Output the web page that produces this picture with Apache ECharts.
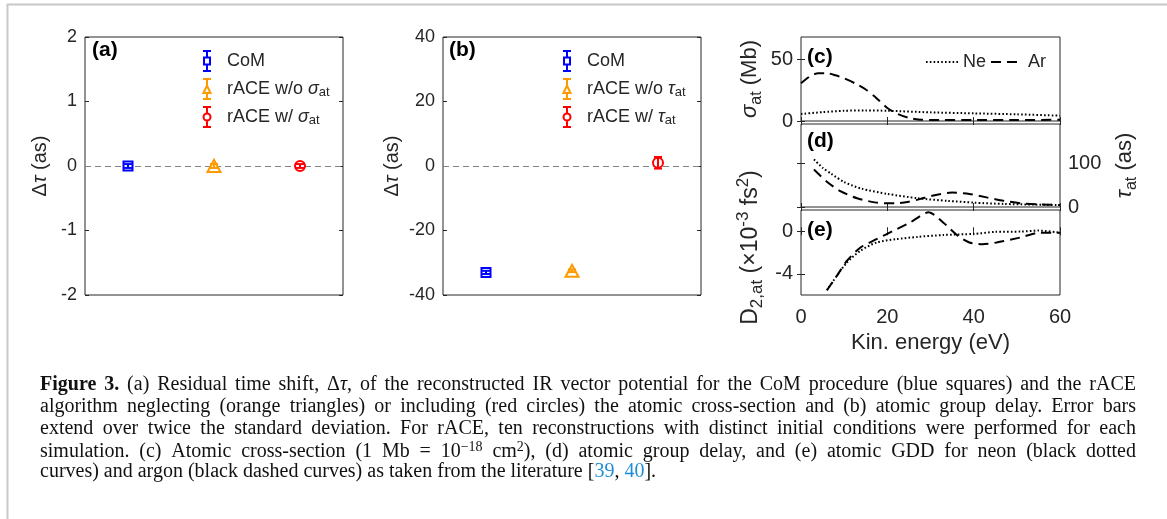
<!DOCTYPE html>
<html>
<head>
<meta charset="utf-8">
<title>Figure 3</title>
<script src="https://cdn.jsdelivr.net/npm/echarts@6/dist/echarts.min.js"></script>
<style>
html, body { margin: 0; padding: 0; background: #fff; }
#chart { width: 1167px; height: 519px; }
</style>
</head>
<body>
<div id="chart"></div>
<script>
// (a)(b) residual time shift per method
const methodX = [0.5, 1.5, 2.5];
const methodNames = ['CoM', 'rACE w/o', 'rACE w/'];
const shiftA = [0, 0, 0];
const errA = [0.03, 0.03, 0.03];
const shiftB = [-33, -32.5, 1];
const errB = [0.5, 0.4, 1.8];

// (c) cross-section (Mb)
const energyNeSigma = [0, 5, 10, 15, 20, 30, 40, 50, 60];
const sigmaNe = [5.7, 7.2, 8.3, 8.5, 8.3, 7.0, 6.2, 5.4, 4.3];
const energyArSigma = [0, 2, 4, 6, 8, 10, 12.5, 15, 17.5, 20, 22.5, 25, 28, 32, 40, 50, 60];
const sigmaAr = [30.5, 36, 38.7, 38.7, 37, 34.5, 30.5, 25.5, 18.5, 10.5, 5.5, 2.5, 1, 0.8, 0.8, 0.8, 1];

// (d) group delay (as)
const energyNeTau = [3, 5, 7, 10, 14, 20, 27, 34, 40, 47, 54, 60];
const tauNe = [109, 90, 76, 57, 42, 30, 20, 14, 10, 7, 5.5, 4.6];
const energyArTau = [3, 6, 9, 13, 17.5, 22, 25, 27.5, 31, 35, 39, 43, 47, 51, 55, 60];
const tauAr = [86, 58, 37, 20, 10, 8.5, 12, 18, 27, 33, 30, 22, 14, 8.5, 6, 4.6];

// (e) GDD (1e-3 fs^2)
const energyNeGdd = [6, 8.3, 10.6, 13.7, 17.5, 22, 27, 33, 40, 45, 51, 55, 60];
const gddNe = [-5.55, -4.2, -2.95, -1.85, -1.06, -0.75, -0.53, -0.35, -0.25, -0.06, -0.03, 0.06, -0.13];
const energyArGdd = [6, 8.3, 10.6, 13.7, 17.5, 21.3, 25.2, 29.6, 33, 36.4, 39, 42, 45.3, 50.7, 55.4, 60];
const gddAr = [-5.55, -4.2, -2.8, -1.55, -0.75, 0.03, 0.8, 1.8, 0.8, -0.45, -1.06, -1.22, -1.06, -0.6, -0.13, -0.13];

// tick labels
const ticksA = [-2, -1, 0, 1, 2];
const ticksB = [-40, -20, 0, 20, 40];
const ticksSigma = [0, 50];
const ticksTau = [0, 100];
const ticksGdd = [-4, 0];
const ticksEnergy = [0, 20, 40, 60];

const FONT = '"Liberation Sans", Arial, sans-serif';
const SERIF = '"Liberation Serif", "Times New Roman", serif';
const AX = '#262626';
const methodColors = ['#0000ff', '#ff9900', '#ff0000'];
const markerShapes = ['rect', 'triangle', 'circle'];
const markerSizes = [9, [13, 12], 10];

// rich styles for math-like labels
function mathRich(size, gap) {
  return {
    n: { fontSize: size, fontFamily: FONT, color: AX, lineHeight: size + 8 },
    i: { fontSize: size, fontFamily: FONT, color: AX, fontStyle: 'italic', lineHeight: size + 8 },
    s: { fontSize: Math.round(size * 0.72), fontFamily: FONT, color: AX, verticalAlign: 'bottom' },
    u: { fontSize: Math.round(size * 0.72), fontFamily: FONT, color: AX, verticalAlign: 'top' },
    g: { fontSize: size, width: gap || 11 }
  };
}

const tickStyle = { inside: true, length: 4, lineStyle: { color: AX, width: 1 } };
function labelStyle(size, margin) {
  return { fontSize: size, fontFamily: FONT, color: AX, margin: margin };
}

function xAx(grid, pos, min, max, opts) {
  return Object.assign({
    type: 'value', gridIndex: grid, position: pos, min: min, max: max,
    axisLine: { show: false }, splitLine: { show: false },
    axisTick: { show: false }, axisLabel: { show: false }
  }, opts || {});
}
function yAx(grid, pos, min, max, ticks, size, showLabels, opts) {
  return Object.assign({
    type: 'value', gridIndex: grid, position: pos, min: min, max: max,
    axisLine: { show: false }, splitLine: { show: false },
    axisTick: Object.assign({ customValues: ticks }, tickStyle),
    axisLabel: Object.assign({ show: showLabels, customValues: ticks }, labelStyle(size, 8)),
    nameLocation: 'middle', nameRotate: 90
  }, opts || {});
}
function energyAx(grid, pos, showLabels, opts) {
  return xAx(grid, pos, 0, 60, Object.assign({
    axisTick: Object.assign({ customValues: ticksEnergy }, tickStyle),
    axisLabel: Object.assign({ show: showLabels, customValues: ticksEnergy }, labelStyle(20, 12))
  }, opts || {}));
}

const gridBox = { show: true, borderColor: AX, borderWidth: 1, backgroundColor: 'transparent' };

// error bar drawing
function errorBar(params, api) {
  const lo = api.coord([api.value(0), api.value(2)]);
  const hi = api.coord([api.value(0), api.value(3)]);
  const cap = 4;
  const st = { stroke: methodColors[params.dataIndex], lineWidth: 2 };
  return {
    type: 'group',
    children: [
      { type: 'line', shape: { x1: lo[0], y1: lo[1], x2: hi[0], y2: hi[1] }, style: st },
      { type: 'line', shape: { x1: lo[0] - cap, y1: lo[1], x2: lo[0] + cap, y2: lo[1] }, style: st },
      { type: 'line', shape: { x1: hi[0] - cap, y1: hi[1], x2: hi[0] + cap, y2: hi[1] }, style: st }
    ]
  };
}

const series = [];
[['a', shiftA, errA, 0], ['b', shiftB, errB, 1]].forEach(function (p) {
  const key = p[0], vals = p[1], errs = p[2], g = p[3];
  methodX.forEach(function (x, k) {
    series.push({
      name: key + k, type: 'scatter', xAxisIndex: g, yAxisIndex: g * 2, z: 2,
      symbol: markerShapes[k], symbolSize: markerSizes[k],
      itemStyle: { color: '#fff', borderColor: methodColors[k], borderWidth: 2, opacity: 1 },
      data: [[x, vals[k]]]
    });
  });
  series.push({
    name: key + 'err', type: 'custom', xAxisIndex: g, yAxisIndex: g * 2, z: 3,
    encode: { x: 0, y: [1, 2, 3] },
    renderItem: errorBar,
    data: methodX.map(function (x, k) { return [x, vals[k], vals[k] - errs[k], vals[k] + errs[k]]; }),
    markLine: {
      z: 1, silent: true, symbol: 'none', label: { show: false },
      lineStyle: { color: '#808080', width: 1, type: [6, 4] },
      data: [{ yAxis: 0 }]
    }
  });
});

const neStyle = { color: '#000', width: 2, type: [1.6, 2.2] };
const arStyle = { color: '#000', width: 2, type: [10, 6] };
[
  [2, 4, energyNeSigma, sigmaNe, energyArSigma, sigmaAr],
  [4, 6, energyNeTau, tauNe, energyArTau, tauAr],
  [6, 8, energyNeGdd, gddNe, energyArGdd, gddAr]
].forEach(function (c) {
  series.push({
    name: 'Ne', type: 'line', xAxisIndex: c[0], yAxisIndex: c[1], symbol: 'none', smooth: 0.25,
    lineStyle: neStyle, itemStyle: { color: '#000' },
    data: c[2].map(function (e, i) { return [e, c[3][i]]; })
  });
  series.push({
    name: 'Ar', type: 'line', xAxisIndex: c[0], yAxisIndex: c[1], symbol: 'none', smooth: 0.25,
    lineStyle: arStyle, itemStyle: { color: '#000' },
    data: c[4].map(function (e, i) { return [e, c[5][i]]; })
  });
});

// legend icons: error bar + marker
const legendIcons = [
  'path://M0,0 L8,0 M4,0 L4,6.5 M4,13.5 L4,20 M0,20 L8,20 M1,6.5 L7,6.5 L7,13.5 L1,13.5 Z',
  'path://M0,0 L8,0 M4,0 L4,6 M4,14 L4,20 M0,20 L8,20 M0.5,14 L4,6.5 L7.5,14 Z',
  'path://M0,0 L8,0 M4,0 L4,6.5 M4,13.5 L4,20 M0,20 L8,20 M0.5,10 A3.5,3.5 0 1 1 7.5,10 A3.5,3.5 0 1 1 0.5,10 Z'
];
function markerLegend(key, greek, left) {
  const rich = mathRich(18, 11);
  rich.n.lineHeight = 20;
  rich.i.lineHeight = 20;
  return {
    left: left, top: 45, orient: 'vertical', itemWidth: 8, itemHeight: 20, itemGap: 6,
    selectedMode: false,
    data: methodX.map(function (x, k) {
      return {
        name: key + k, icon: legendIcons[k],
        itemStyle: { color: '#fff', borderColor: methodColors[k], borderWidth: 2 }
      };
    }),
    formatter: function (name) {
      const k = +name.slice(1);
      return k === 0 ? '{g| }{n|' + methodNames[k] + '}'
        : '{g| }{n|' + methodNames[k] + ' }{i|' + greek + '}{s|at}';
    },
    textStyle: { rich: rich }
  };
}

// caption with justified lines
const captionLines = [
  [['b', 'Figure 3.'], ['n', ' (a) Residual time shift, Δ'], ['i', 'τ'], ['n', ', of the reconstructed IR vector potential for the CoM procedure (blue squares) and the rACE']],
  [['n', 'algorithm neglecting (orange triangles) or including (red circles) the atomic cross-section and (b) atomic group delay. Error bars']],
  [['n', 'extend over twice the standard deviation. For rACE, ten reconstructions with distinct initial conditions were performed for each']],
  [['n', 'simulation. (c) Atomic cross-section (1 Mb = 10'], ['u', '−18'], ['n', ' cm'], ['u', '2'], ['n', '), (d) atomic group delay, and (e) atomic GDD for neon (black dotted']],
  [['n', 'curves) and argon (black dashed curves) as taken from the literature ['], ['r', '39'], ['n', ', '], ['r', '40'], ['n', '].']]
];
const CAP_SIZE = 20;
const CAP_LEFT = 40;
const CAP_RIGHT = 1136;
const capRich = {
  n: { fontSize: CAP_SIZE, fontFamily: SERIF, fill: '#111', lineHeight: 22 },
  b: { fontSize: CAP_SIZE, fontFamily: SERIF, fontWeight: 'bold', fill: '#111', lineHeight: 22 },
  i: { fontSize: CAP_SIZE, fontFamily: SERIF, fontStyle: 'italic', fill: '#111', lineHeight: 22 },
  u: { fontSize: 14, fontFamily: SERIF, fill: '#111', verticalAlign: 'top' },
  r: { fontSize: CAP_SIZE, fontFamily: SERIF, fill: '#1f8dd6', lineHeight: 22 }
};
const measure = document.createElement('canvas').getContext('2d');
function capFont(k) {
  const st = capRich[k];
  return (st.fontStyle || 'normal') + ' ' + (st.fontWeight || 'normal') + ' ' + st.fontSize + 'px ' + SERIF;
}
function textW(str, k) {
  measure.font = capFont(k);
  return measure.measureText(str).width;
}
function captionText(segs, idx) {
  let content = 0, spaces = 0;
  segs.forEach(function (s) {
    const words = s[1].split(' ');
    words.forEach(function (w) { content += textW(w, s[0]); });
    spaces += words.length - 1;
  });
  const last = idx === captionLines.length - 1;
  const spW = last ? textW(' ', 'n') : Math.max(3, (CAP_RIGHT - CAP_LEFT - content) / spaces);
  const rich = Object.assign({}, capRich, { sp: { fontSize: CAP_SIZE, fontFamily: SERIF, width: spW, lineHeight: 22 } });
  const text = segs.map(function (s) {
    return s[1].split(' ').map(function (w) { return w ? '{' + s[0] + '|' + w + '}' : ''; }).join('{sp| }');
  }).join('');
  return { type: 'text', left: CAP_LEFT, top: 375 + idx * 21.8, style: { text: text, rich: rich } };
}

function panelTag(txt, x, y) {
  return { type: 'text', left: x, top: y, style: { text: txt, font: 'bold 21px ' + FONT, fill: '#000' } };
}

const chart = echarts.init(document.getElementById('chart'));
chart.setOption({
  animation: false,
  backgroundColor: '#fff',
  grid: [
    Object.assign({ left: 85, top: 37, width: 258, height: 258 }, gridBox),
    Object.assign({ left: 443, top: 37, width: 258, height: 258 }, gridBox),
    Object.assign({ left: 801, top: 37, width: 259, height: 84 }, gridBox),
    Object.assign({ left: 801, top: 124, width: 259, height: 83 }, gridBox),
    Object.assign({ left: 801, top: 210, width: 259, height: 85 }, gridBox)
  ],
  xAxis: [
    xAx(0, 'bottom', 0, 3),
    xAx(1, 'bottom', 0, 3),
    energyAx(2, 'bottom', false),
    energyAx(2, 'top', false),
    energyAx(3, 'bottom', false),
    energyAx(3, 'top', false),
    energyAx(4, 'bottom', true, {
      name: 'Kin. energy (eV)', nameLocation: 'middle', nameGap: 37,
      nameTextStyle: { fontSize: 22, fontFamily: FONT, color: AX }
    }),
    energyAx(4, 'top', false)
  ],
  yAxis: [
    yAx(0, 'left', -2, 2, ticksA, 18, true, {
      name: '{n|Δ}{i|τ}{n| (as)}', nameGap: 31, nameTextStyle: { rich: mathRich(20) }
    }),
    yAx(0, 'right', -2, 2, ticksA, 18, false),
    yAx(1, 'left', -40, 40, ticksB, 18, true, {
      name: '{n|Δ}{i|τ}{n| (as)}', nameGap: 37, nameTextStyle: { rich: mathRich(20) }
    }),
    yAx(1, 'right', -40, 40, ticksB, 18, false),
    yAx(2, 'left', 0, 68, ticksSigma, 20, true, {
      name: '{i|σ}{s|at}{n| (Mb)}', nameGap: 36, nameTextStyle: { rich: mathRich(22) }
    }),
    yAx(2, 'right', 0, 68, ticksSigma, 20, false),
    yAx(3, 'left', 0, 190, ticksTau, 20, false),
    yAx(3, 'right', 0, 190, ticksTau, 20, true, {
      name: '{i|τ}{s|at}{n| (as)}', nameGap: 50, nameTextStyle: { rich: mathRich(22) }
    }),
    yAx(4, 'left', -6, 2, ticksGdd, 20, true, {
      name: '{g| }{n|D}{s|2,at}{n| (×10}{u|-3}{n| fs}{u|2}{n|)}', nameGap: 35,
      nameTextStyle: { rich: mathRich(23, 10) }
    }),
    yAx(4, 'right', -6, 2, ticksGdd, 20, false)
  ],
  legend: [
    markerLegend('a', 'σ', 197),
    markerLegend('b', 'τ', 557),
    {
      left: 920, top: 48, orient: 'horizontal', itemWidth: 32, itemHeight: 10, itemGap: 4,
      selectedMode: false, data: ['Ne', 'Ar'],
      itemStyle: { opacity: 0 },
      textStyle: { fontSize: 18, fontFamily: FONT, color: AX }
    }
  ],
  graphic: [
    { type: 'line', shape: { x1: 7.5, y1: 4, x2: 7.5, y2: 519 }, style: { stroke: '#c8c8c8', lineWidth: 2 } },
    { type: 'line', shape: { x1: 7, y1: 4.5, x2: 1167, y2: 4.5 }, style: { stroke: '#c8c8c8', lineWidth: 2 } },
    panelTag('(a)', 92, 40),
    panelTag('(b)', 449, 40),
    panelTag('(c)', 807, 47),
    panelTag('(d)', 807, 131),
    panelTag('(e)', 807, 220)
  ].concat(captionLines.map(captionText)),
  series: series
});
</script>
</body>
</html>
